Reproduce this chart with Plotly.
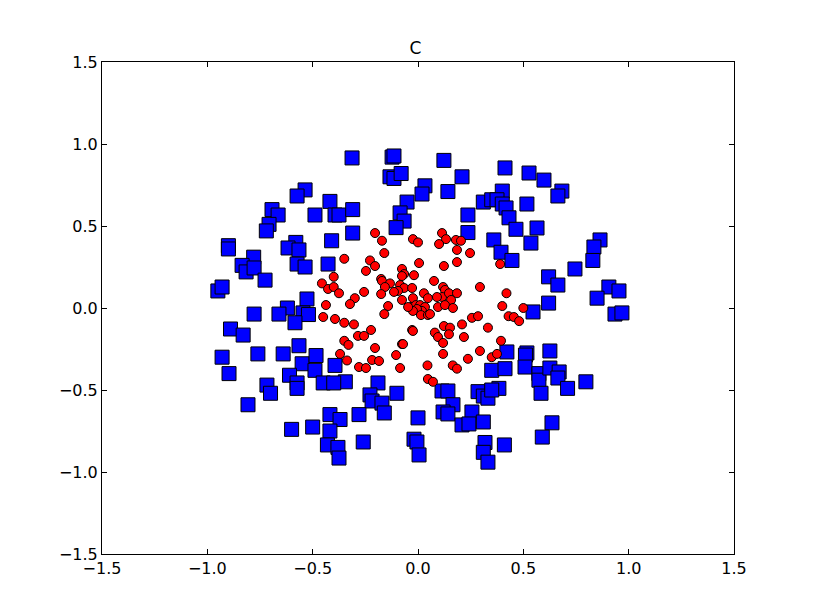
import plotly.graph_objects as go

# Class "square" (blue) points
blue_x = [-0.313, -0.536, -0.574, -0.693, -0.664, -0.707, -0.72, -0.418, -0.489, -0.394,
          -0.375, -0.31, -0.41, -0.58, -0.617, -0.565, -0.90, -0.90, -0.78, -0.31,
          -0.123, -0.114, -0.133, -0.114, -0.08, 0.123, 0.209, 0.033, 0.019, 0.142,
          -0.052, 0.31, 0.35, -0.085, -0.066, -0.104, 0.237, 0.237, 0.36, 0.413,
          0.527, 0.598, 0.683, 0.664, 0.40, 0.375, 0.40, 0.418, 0.517, 0.432,
          0.465, 0.565, 0.536, 0.394, 0.864, 0.835, -0.835, -0.816, -0.778, -0.726,
          -0.95, -0.93, -0.574, -0.536, -0.427, -0.527, -0.62, -0.66, -0.778, -0.546,
          -0.52, -0.584, -0.89, -0.83, -0.565, -0.93, -0.76, -0.64, -0.55, -0.484,
          -0.394, 0.446, 0.745, 0.83, 0.62, 0.664, 0.906, 0.954, 0.85, 0.62,
          0.546, 0.935, 0.968, 0.422, 0.517, 0.51, 0.626, 0.35, 0.413, 0.508,
          0.574, 0.574, 0.626, 0.67, 0.664, 0.584, 0.71, 0.797, 0.384, 0.636,
          0.59, 0.41, -0.345, -0.19, -0.228, -0.218, -0.171, -0.10, -0.16, -0.28,
          0.0, -0.26, -0.019, -0.005, 0.005, 0.114, 0.142, 0.166, 0.119, 0.142,
          0.256, 0.209, 0.242, 0.31, 0.285, 0.31, 0.332, 0.35, 0.318, 0.31,
          0.332, -0.897, -0.717, -0.70, -0.807, -0.61, -0.574, -0.574, -0.489, -0.45,
          -0.40, -0.60, -0.50, -0.418, -0.37, -0.418, -0.43, -0.38, -0.375]
blue_y = [0.915, 0.72, 0.683, 0.60, 0.567, 0.51, 0.47, 0.65, 0.567, 0.567,
          0.567, 0.60, 0.41, 0.40, 0.366, 0.354, 0.38, 0.36, 0.31, 0.457,
          0.92, 0.927, 0.80, 0.79, 0.82, 0.90, 0.80, 0.745, 0.695, 0.71,
          0.646, 0.646, 0.66, 0.58, 0.53, 0.49, 0.567, 0.46, 0.415, 0.854,
          0.823, 0.78, 0.713, 0.683, 0.713, 0.66, 0.634, 0.61, 0.634, 0.55,
          0.48, 0.488, 0.396, 0.34, 0.415, 0.372, 0.26, 0.22, 0.244, 0.17,
          0.104, 0.128, 0.268, 0.25, 0.268, 0.055, 0.0, -0.037, -0.037, -0.03,
          -0.04, -0.09, -0.128, -0.165, -0.23, -0.30, -0.28, -0.28, -0.34, -0.29,
          -0.35, 0.29, 0.238, 0.29, 0.19, 0.14, 0.128, 0.104, 0.06, 0.03,
          -0.024, -0.037, -0.03, -0.268, -0.274, -0.287, -0.262, -0.38, -0.37, -0.36,
          -0.40, -0.44, -0.366, -0.39, -0.427, -0.52, -0.49, -0.45, -0.49, -0.70,
          -0.787, -0.835, -0.45, -0.457, -0.53, -0.567, -0.58, -0.52, -0.64, -0.65,
          -0.67, -0.817, -0.80, -0.817, -0.896, -0.506, -0.506, -0.59, -0.634, -0.646,
          -0.634, -0.713, -0.707, -0.695, -0.51, -0.537, -0.55, -0.50, -0.82, -0.88,
          -0.94, -0.40, -0.47, -0.52, -0.59, -0.41, -0.457, -0.49, -0.38, -0.457,
          -0.457, -0.74, -0.726, -0.65, -0.68, -0.75, -0.835, -0.85, -0.915]

# Class "circle" (red) points
red_x = [-0.204, -0.171, -0.024, 0.0, 0.114, 0.133, 0.10, 0.18, 0.204, 0.185,
         -0.16, 0.247, -0.35, -0.40, -0.456, -0.427, -0.40, -0.375, -0.437, -0.45,
         -0.394, -0.35, -0.35, -0.33, -0.37, -0.337, -0.228, -0.204, -0.247, 0.005,
         0.123, 0.185, -0.076, -0.066, -0.076, -0.019, -0.175, -0.171, -0.133, -0.157,
         -0.085, -0.066, -0.095, -0.028, 0.076, 0.119, 0.128, 0.114, 0.294, -0.256,
         -0.30, -0.323, -0.114, -0.175, -0.076, -0.024, 0.028, 0.047, 0.09, 0.147,
         0.185, 0.157, -0.033, -0.01, 0.01, 0.033, 0.019, -0.005, -0.024, 0.014,
         0.047, 0.057, 0.095, -0.047, -0.142, -0.16, 0.128, 0.166, 0.256, 0.285,
         0.332, 0.209, 0.123, 0.152, 0.147, 0.08, 0.095, 0.218, -0.028, -0.024,
         -0.304, -0.223, -0.285, -0.256, 0.119, -0.076, -0.071, -0.204, 0.294, 0.119,
         -0.104, -0.218, -0.185, 0.165, 0.237, 0.35, -0.28, -0.247, -0.085, 0.045,
         0.185, 0.047, 0.071, 0.39, 0.42, 0.40, 0.50, 0.43, 0.455, 0.48,
         0.394, 0.375]
red_y = [0.457, 0.41, 0.42, 0.40, 0.457, 0.42, 0.39, 0.415, 0.41, 0.354,
         0.335, 0.335, 0.30, 0.19, 0.15, 0.116, 0.128, 0.09, 0.018, -0.055,
         -0.067, -0.09, -0.20, -0.225, -0.28, -0.32, 0.29, 0.256, 0.226, 0.274,
         0.256, 0.28, 0.238, 0.207, 0.195, 0.20, 0.177, 0.165, 0.15, 0.128,
         0.14, 0.122, 0.104, 0.122, 0.165, 0.128, 0.11, 0.067, 0.128, 0.098,
         0.06, 0.024, 0.098, 0.085, 0.049, 0.06, 0.09, 0.06, 0.067, 0.09,
         0.09, 0.049, 0.006, 0.018, 0.018, 0.006, -0.018, -0.006, -0.018, -0.043,
         -0.043, -0.037, 0.006, 0.006, 0.012, -0.037, 0.018, 0.0, -0.06, -0.05,
         -0.12, -0.10, -0.11, -0.12, -0.16, -0.15, -0.177, -0.177, -0.134, -0.14,
         -0.10, -0.134, -0.17, -0.17, -0.213, -0.22, -0.22, -0.244, -0.262, -0.28,
         -0.287, -0.317, -0.323, -0.35, -0.31, -0.30, -0.36, -0.366, -0.366, -0.35,
         -0.37, -0.433, -0.45, 0.268, 0.09, 0.012, 0.0, -0.05, -0.055, -0.08,
         -0.20, -0.28]

title_text = "C"
tick_vals = [-1.5, -1.0, -0.5, 0.0, 0.5, 1.0, 1.5]

fig = go.Figure()
fig.add_trace(go.Scatter(
    x=blue_x, y=blue_y, mode="markers",
    marker=dict(symbol="square", size=14, color="#0000ff",
                line=dict(color="black", width=1)),
    showlegend=False))
fig.add_trace(go.Scatter(
    x=red_x, y=red_y, mode="markers",
    marker=dict(symbol="circle", size=9, color="#ff0000",
                line=dict(color="black", width=1)),
    showlegend=False))

axis_common = dict(
    range=[-1.5, 1.5], tickvals=tick_vals, tickformat=".1f",
    showgrid=False, zeroline=False, showline=True, linecolor="black",
    linewidth=1, mirror="ticks", ticks="inside", ticklen=5,
    tickcolor="black", tickfont=dict(family="DejaVu Sans", size=16, color="black"),
)

fig.update_layout(
    width=815, height=615,
    margin=dict(l=94, r=89, t=54, b=69),
    paper_bgcolor="white", plot_bgcolor="white",
    title=dict(text=title_text, x=0.5, xanchor="center", y=1 - 40 / 615,
               yanchor="middle",
               font=dict(family="DejaVu Sans", size=17, color="black")),
    xaxis=dict(**axis_common),
    yaxis=dict(**axis_common),
)

fig.write_html("out.html")
